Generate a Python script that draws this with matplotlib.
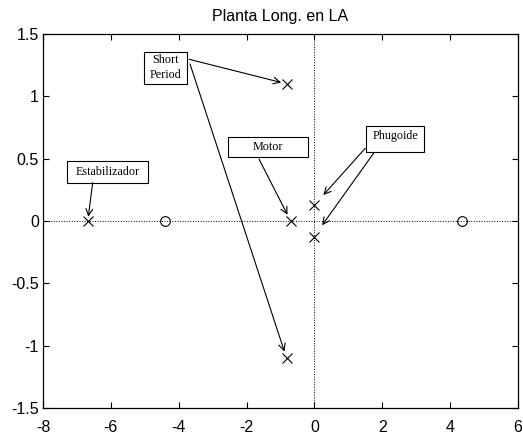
import matplotlib
matplotlib.use("Agg")
import matplotlib.pyplot as plt
from matplotlib.patches import Rectangle

# Data (pole-zero locations)
poles_re = [-6.68, -0.70, -0.82, -0.82, -0.01, -0.01]
poles_im = [0.0, 0.0, 1.10, -1.10, 0.125, -0.125]
zeros_re = [-4.40, 4.35]
zeros_im = [0.0, 0.0]

xticks = [-8, -6, -4, -2, 0, 2, 4, 6]
yticks = [-1.5, -1, -0.5, 0, 0.5, 1, 1.5]
xtick_labels = ["-8", "-6", "-4", "-2", "0", "2", "4", "6"]
ytick_labels = ["-1.5", "-1", "-0.5", "0", "0.5", "1", "1.5"]

title = "Planta Long. en LA"

# annotations: label, pole indices pointed at
labels = ["Short\nPeriod", "Estabilizador", "Motor", "Phugoide"]
targets = [[2, 3], [0], [1], [4, 5]]

plt.rcParams["font.family"] = ["Liberation Sans", "DejaVu Sans"]

fig = plt.figure(figsize=(5.23, 4.34), dpi=100)
ax = fig.add_axes([0.0822, 0.0599, 0.9082, 0.8618])

ax.axhline(0, color="black", linestyle=":", linewidth=0.7, zorder=1)
ax.axvline(0, color="black", linestyle=":", linewidth=0.7, zorder=1)

ax.plot(poles_re, poles_im, linestyle="none", marker="x", color="black",
        markersize=7, markeredgewidth=0.8, zorder=3)
ax.plot(zeros_re, zeros_im, linestyle="none", marker="o", color="black",
        markerfacecolor="none", markersize=7, markeredgewidth=0.8, zorder=3)

ax.set_xlim(-8, 6)
ax.set_ylim(-1.5, 1.5)
ax.set_xticks(xticks)
ax.set_xticklabels(xtick_labels)
ax.set_yticks(yticks)
ax.set_yticklabels(ytick_labels)
ax.tick_params(direction="in", top=True, right=True, length=4, width=0.8,
               labelsize=11.5)
ax.tick_params(axis="x", pad=8.5)
ax.tick_params(axis="y", pad=3)
for s in ax.spines.values():
    s.set_linewidth(0.9)
ax.set_title(title, fontsize=11.5, pad=9)

# layout of annotation boxes (axes fraction): x0, y0, x1, y1
boxes = [
    (0.2126, 0.8663, 0.3025, 0.9527),
    (0.0512, 0.6024, 0.2204, 0.6604),
    (0.3901, 0.6703, 0.5585, 0.7254),
    (0.6800, 0.6853, 0.8027, 0.7548),
]
# arrow start points (axes fraction) per target
starts = [
    [(0.3074, 0.9324), (0.3095, 0.9198)],
    [(0.1046, 0.6024)],
    [(0.4547, 0.6658)],
    [(0.6785, 0.6944), (0.6968, 0.6826)],
]
shrinks = [[4, 5], [3], [5], [10, 10]]
text_dy = [0.0, 0.0, 0.0, 0.008]

for lab, tg, box, st, sh, dy in zip(labels, targets, boxes, starts, shrinks, text_dy):
    x0, y0, x1, y1 = box
    ax.add_patch(Rectangle((x0, y0), x1 - x0, y1 - y0, transform=ax.transAxes,
                           facecolor="white", edgecolor="black", linewidth=0.8,
                           zorder=4))
    ax.text((x0 + x1) / 2, (y0 + y1) / 2 + dy, lab, transform=ax.transAxes,
            ha="center", va="center", fontsize=8.7, linespacing=1.35,
            family=["Liberation Serif", "DejaVu Serif"], zorder=5)
    for i, s, k in zip(tg, st, sh):
        ax.annotate("", xy=(poles_re[i], poles_im[i]), xycoords="data",
                    xytext=s, textcoords="axes fraction",
                    arrowprops=dict(arrowstyle="->", color="black", lw=0.8,
                                    shrinkA=0, shrinkB=k, mutation_scale=12),
                    zorder=4)

fig.savefig("out.png", dpi=100)
